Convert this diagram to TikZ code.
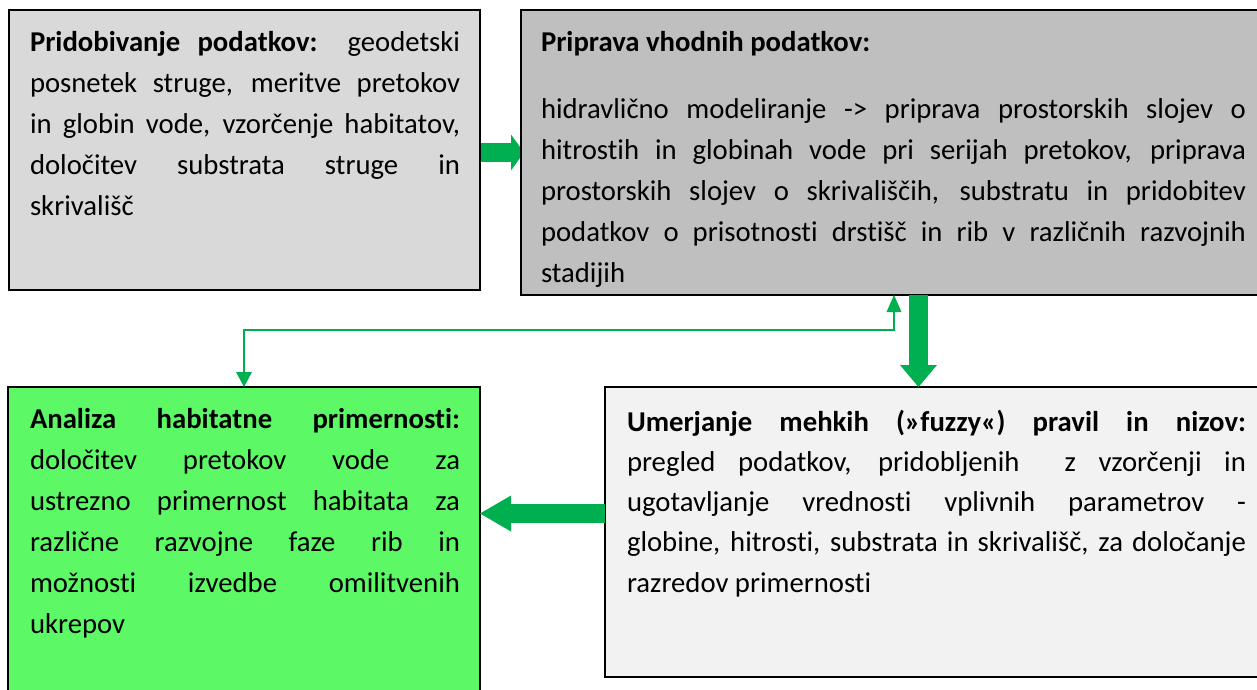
\documentclass[tikz,border=0pt]{standalone}
\usepackage{fontspec}
\setmainfont{Carlito}[Ligatures={NoCommon,TeX}]
\usetikzlibrary{arrows.meta,calc,backgrounds}
\definecolor{boxA}{HTML}{D9D9D9}
\definecolor{boxB}{HTML}{BFBFBF}
\definecolor{boxC}{HTML}{5CF866}
\definecolor{boxD}{HTML}{F2F2F2}
\definecolor{arrowgreen}{HTML}{00B050}
\setlength{\parindent}{0pt}
\tolerance=10000
\begin{document}
\begin{tikzpicture}[x=1pt,y=-1pt,
  box/.style={draw=black, line width=1.6pt, inner sep=0pt, outer sep=0pt, anchor=north west},
  txt/.style={anchor=north west, inner sep=0pt, outer sep=0pt, align=justify, text=black,
    font=\fontsize{28.7}{41}\selectfont},
  bigarrow/.style={draw=arrowgreen, line width=19pt, line cap=butt},
  thinarrow/.style={draw=arrowgreen, line width=2pt,
    {Triangle[length=15pt,width=16pt,line width=0pt]}-{Triangle[length=17pt,width=15pt,line width=0pt]}}
]
\useasboundingbox (0,0) rectangle (1257,690);
\clip (0,0) rectangle (1257,690);

% boxes
\node[box, fill=boxA, minimum width=471pt, minimum height=280pt] (b1) at (9,10) {};
\node[box, fill=boxB, minimum width=745pt, minimum height=285pt] (b2) at (521,10) {};
\node[box, fill=boxC, minimum width=472pt, minimum height=320pt] (b3) at (8,387) {};
\node[box, fill=boxD, minimum width=660pt, minimum height=290pt] (b4) at (605,387) {};

% texts
\node[txt, text width=430pt] (t1) at (30,28) {\rule{0pt}{24pt}\textbf{Pridobivanje podatkov:} geodetski\linebreak posnetek struge, meritve pretokov\linebreak in globin vode, vzorčenje habitatov,\linebreak določitev substrata struge in\linebreak skrivališč};

\node[txt, text width=705pt] (t2) at (541,28) {\rule{0pt}{24pt}\textbf{Priprava vhodnih podatkov:}\par\vspace{26pt}hidravlično modeliranje -> priprava prostorskih slojev o\linebreak hitrostih in globinah vode pri serijah pretokov, priprava\linebreak prostorskih slojev o skrivališčih, substratu in pridobitev\linebreak podatkov o prisotnosti drstišč in rib v različnih razvojnih\linebreak stadijih};

\node[txt, text width=430pt] (t3) at (30,404) {\rule{0pt}{24pt}\textbf{Analiza habitatne primernosti:}\linebreak določitev pretokov vode za\linebreak ustrezno primernost habitata za\linebreak različne razvojne faze rib in\linebreak možnosti izvedbe omilitvenih\linebreak ukrepov};

\node[txt, text width=619pt, font=\fontsize{28.7}{40.3}\selectfont] (t4) at (627,407) {\rule{0pt}{24pt}\textbf{Umerjanje mehkih (»fuzzy«) pravil in nizov:}\linebreak pregled podatkov, pridobljenih\ \ z vzorčenji in\linebreak ugotavljanje vrednosti vplivnih parametrov -\linebreak globine, hitrosti, substrata in skrivališč, za določanje\linebreak razredov primernosti};

% connectors
\coordinate (r1) at (0,152.5);
\coordinate (l1) at (0,513.5);
\coordinate (d1) at (918.5,0);
\coordinate (c1) at (244,330);
\coordinate (c2) at (894,330);
\begin{scope}[on background layer]
\draw[bigarrow, -{Triangle[length=13pt,width=36pt,line width=0pt]}] (b1.east |- r1) -- ($(b2.west |- r1)+(3,0)$);
\end{scope}
\draw[bigarrow, -{Triangle[length=31pt,width=36pt,line width=0pt]}] (b4.west |- l1) -- (b3.east |- l1);
\draw[bigarrow, -{Triangle[length=22pt,width=37pt,line width=0pt]}] (b2.south -| d1) -- (b4.north -| d1);
\draw[thinarrow] (b3.north -| c1) -- (c1) -- (c2) -- (b2.south -| c2);
\end{tikzpicture}
\end{document}
